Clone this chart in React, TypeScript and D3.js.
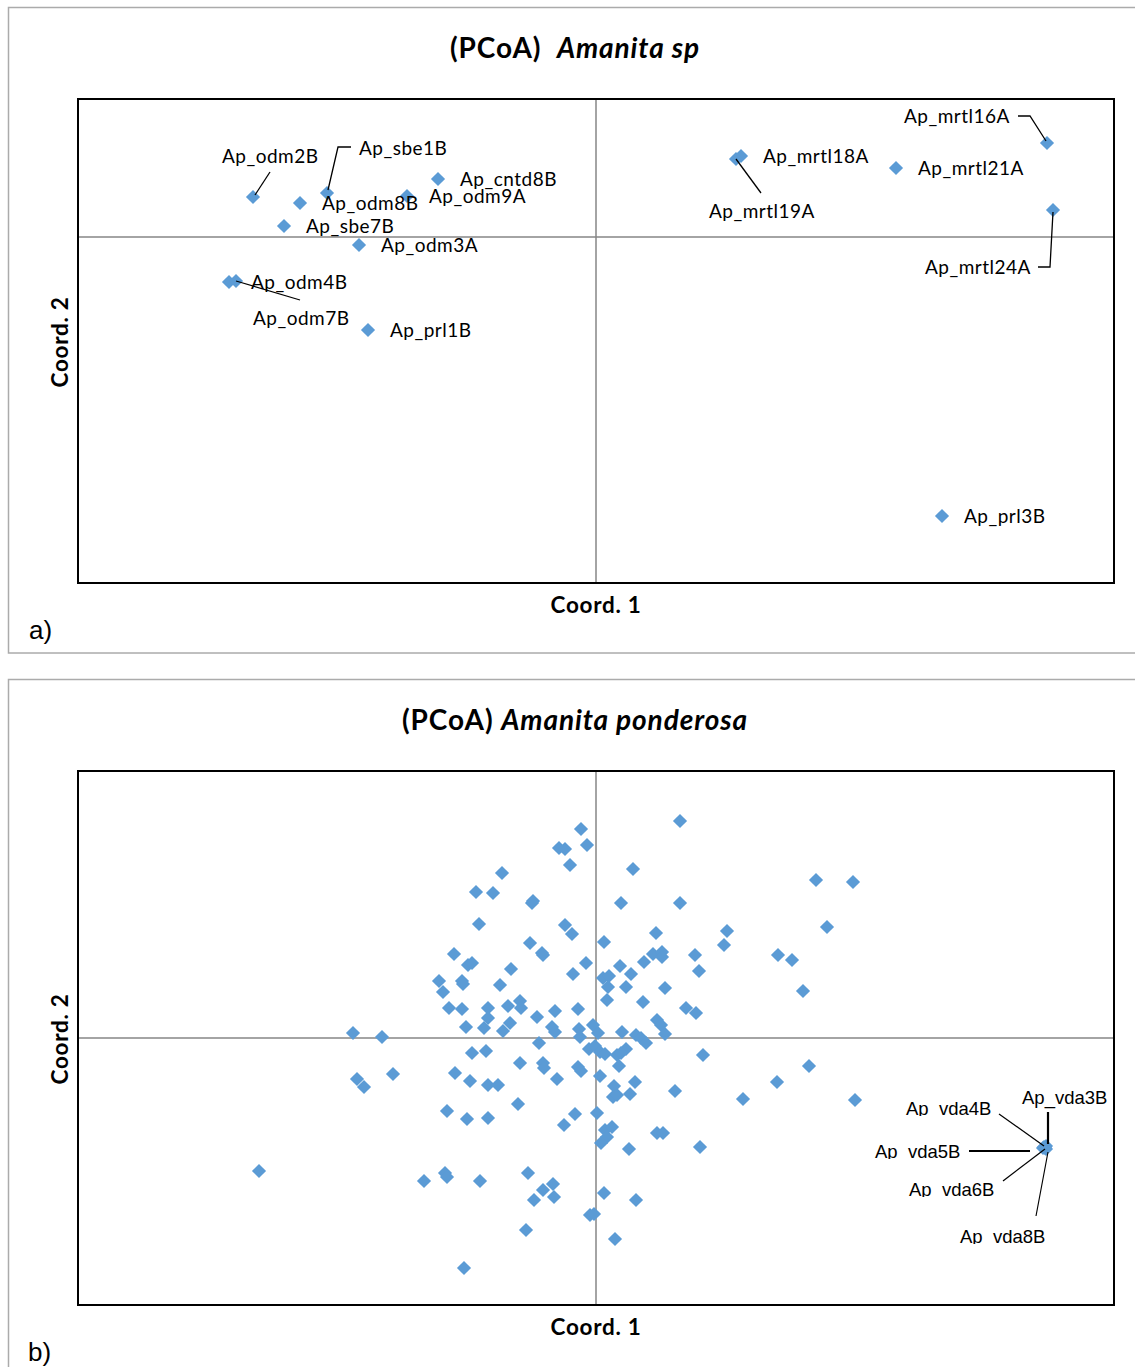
import React from 'react';
import * as d3 from 'd3';

// ---- panel a: (PCoA) Amanita sp ----
const spNames = [
  'Ap_odm2B', 'Ap_sbe1B', 'Ap_odm8B', 'Ap_odm9A', 'Ap_cntd8B', 'Ap_sbe7B', 'Ap_odm3A', 'Ap_odm4B',
  'Ap_odm7B', 'Ap_prl1B', 'Ap_mrtl18A', 'Ap_mrtl19A', 'Ap_mrtl21A', 'Ap_mrtl16A', 'Ap_mrtl24A', 'Ap_prl3B',
];
const spCoord1 = [-0.343, -0.269, -0.296, -0.189, -0.158, -0.312, -0.237, -0.367, -0.36, -0.228, 0.145, 0.14, 0.3, 0.451, 0.457, 0.346];
const spCoord2 = [0.04, 0.044, 0.034, 0.041, 0.058, 0.011, -0.008, -0.045, -0.044, -0.093, 0.081, 0.078, 0.069, 0.094, 0.027, -0.279];

// ---- panel b: (PCoA) Amanita ponderosa ----
const ponCoord1 = [
  0.084, -0.015, -0.009, -0.037, -0.031, -0.026, 0.037, -0.094, -0.12, -0.103, -0.063, -0.064, 0.025, 0.084, 0.22, 0.257,
  -0.117, -0.031, -0.024, 0.231, 0.131, 0.128, 0.06, 0.008, -0.066, -0.054, -0.053, -0.142, 0.099, 0.057, 0.066, 0.066,
  0.048, -0.01, -0.128, -0.124, -0.085, 0.103, -0.023, 0.024, 0.035, 0.007, 0.013, 0.012, 0.03, 0.069, -0.157, -0.134,
  -0.133, -0.096, -0.153, 0.011, 0.047, 0.182, 0.196, 0.207, -0.147, -0.134, -0.108, -0.108, -0.112, -0.088, -0.076, -0.075,
  -0.086, -0.093, -0.13, -0.059, -0.041, -0.018, -0.044, -0.041, -0.017, -0.016, -0.003, 0.002, 0.026, 0.04, 0.045, 0.05,
  0.09, 0.1, 0.061, 0.065, 0.069, -0.243, -0.214, -0.057, -0.124, -0.11, -0.007, -0.001, 0.004, 0.009, 0.021, 0.03,
  0.025, 0.107, -0.076, -0.053, -0.052, -0.018, -0.015, 0.004, 0.023, 0.039, 0.018, 0.017, 0.021, 0.034, 0.079, -0.141,
  -0.126, -0.108, -0.098, -0.039, -0.203, -0.239, -0.232, 0.147, 0.181, 0.213, 0.259, -0.149, -0.078, -0.129, -0.108, -0.021,
  -0.032, 0.001, 0.009, 0.016, 0.011, 0.005, 0.033, 0.061, 0.067, 0.104, -0.337, -0.172, -0.151, -0.149, -0.116, -0.068,
  -0.053, -0.043, -0.042, -0.062, 0.008, 0.04, -0.006, -0.002, -0.07, 0.019, -0.132,
];
const ponCoord2 = [
  0.217, 0.209, 0.193, 0.19, 0.189, 0.173, 0.169, 0.165, 0.146, 0.145, 0.137, 0.135, 0.135, 0.135, 0.158, 0.156,
  0.114, 0.113, 0.104, 0.111, 0.107, 0.093, 0.105, 0.096, 0.095, 0.085, 0.083, 0.084, 0.083, 0.084, 0.086, 0.081,
  0.076, 0.075, 0.073, 0.075, 0.069, 0.067, 0.064, 0.072, 0.064, 0.06, 0.062, 0.051, 0.051, 0.05, 0.057, 0.057,
  0.054, 0.053, 0.046, 0.038, 0.036, 0.083, 0.078, 0.047, 0.03, 0.029, 0.03, 0.02, 0.01, 0.032, 0.037, 0.03,
  0.015, 0.007, 0.011, 0.021, 0.027, 0.029, 0.011, 0.006, 0.009, 0.001, 0.013, 0.005, 0.006, 0.003, 0.0, -0.005,
  0.03, 0.025, 0.018, 0.013, 0.004, 0.005, 0.001, -0.005, -0.015, -0.013, -0.011, -0.008, -0.014, -0.016, -0.017, -0.011,
  -0.015, -0.017, -0.025, -0.025, -0.03, -0.029, -0.033, -0.038, -0.028, -0.044, -0.048, -0.059, -0.057, -0.056, -0.053, -0.035,
  -0.043, -0.047, -0.047, -0.041, -0.036, -0.041, -0.049, -0.061, -0.044, -0.028, -0.062, -0.073, -0.066, -0.081, -0.08, -0.076,
  -0.087, -0.075, -0.092, -0.089, -0.099, -0.105, -0.111, -0.095, -0.095, -0.109, -0.133, -0.143, -0.135, -0.139, -0.143, -0.135,
  -0.152, -0.146, -0.159, -0.162, -0.155, -0.162, -0.177, -0.176, -0.192, -0.201, -0.23,
];
// the labelled vda samples sit on top of each other at the right edge
const vdaNames = ['Ap_vda3B', 'Ap_vda4B', 'Ap_vda5B', 'Ap_vda6B', 'Ap_vda8B'];
const vdaCoord1 = [0.45, 0.448, 0.447, 0.449, 0.45];
const vdaCoord2 = [-0.108, -0.109, -0.11, -0.11, -0.111];

// label placement: pixel offsets from the point, plus optional leader line (offsets too)
type Lay = { dx: number; dy: number; leader?: number[][]; thick?: boolean };
const spLabels: Record<string, Lay> = {
  Ap_odm2B: { dx: -31, dy: -41, leader: [[17, -25], [2, -2]] },
  Ap_sbe1B: { dx: 32, dy: -45, leader: [[24, -46], [11, -46], [1, -3]] },
  Ap_odm7B: { dx: 17, dy: 37, leader: [[0, 0], [64, 19]] },
  Ap_mrtl19A: { dx: -27, dy: 52, leader: [[0, 0], [25, 34]] },
  Ap_mrtl16A: { dx: -143, dy: -27, leader: [[-29, -27], [-17, -27], [-1, -2]] },
  Ap_mrtl24A: { dx: -128, dy: 57, leader: [[-15, 57], [-3, 57], [0, 2]] },
};
const vdaLabels: Record<string, Lay> = {
  Ap_vda3B: { dx: -24, dy: -48, leader: [[2, -34], [2, -2]], thick: true },
  Ap_vda4B: { dx: -138, dy: -38, leader: [[-45, -33], [0, -1]] },
  Ap_vda5B: { dx: -168, dy: 4, leader: [[-74, 3], [-13, 3]], thick: true },
  Ap_vda6B: { dx: -136, dy: 42, leader: [[-42, 33], [0, 1]] },
  Ap_vda8B: { dx: -86, dy: 88, leader: [[-10, 67], [2, 3]] },
};

const BLUE = '#5b9bd5';
const CAL = 'Lato, "Open Sans", sans-serif';
const ARIAL = '"Liberation Sans", Arial, sans-serif';
const diamond = d3.symbol().type(d3.symbolSquare).size(100)() as string;
const leaderLine = d3.line();

const left = 78;
const right = 1114;

function Panel({ top, bottom, yDomain, xs, ys }: any) {
  const x = d3.scaleLinear().domain([-0.518, 0.518]).range([left, right]);
  const y = d3.scaleLinear().domain(yDomain).range([bottom, top]);
  return (
    <g>
      <line x1={x(0)} x2={x(0)} y1={top} y2={bottom} stroke="#868686" strokeWidth={1.5} />
      <line x1={left} x2={right} y1={y(0)} y2={y(0)} stroke="#868686" strokeWidth={1.5} />
      <rect x={left} y={top} width={right - left} height={bottom - top} fill="none" stroke="#000" strokeWidth={2} />
      {xs.map((v: number, i: number) => (
        <path key={i} d={diamond} transform={`translate(${x(v)},${y(ys[i])}) rotate(45)`} fill={BLUE} />
      ))}
    </g>
  );
}

export default function App() {
  const xA = d3.scaleLinear().domain([-0.518, 0.518]).range([left, right]);
  const yA = d3.scaleLinear().domain([-0.346, 0.138]).range([583, 99]);
  const yB = d3.scaleLinear().domain([-0.267, 0.267]).range([1305, 771]);

  const spLab = spNames.map((n, i) => {
    const px = xA(spCoord1[i]);
    const py = yA(spCoord2[i]);
    const lay = spLabels[n] || { dx: 22, dy: 0 };
    return (
      <g key={n}>
        {lay.leader && (
          <path d={leaderLine(lay.leader.map(p => [px + p[0], py + p[1]]) as any) || ''} fill="none" stroke="#000" strokeWidth={1.3} />
        )}
        <text x={px + lay.dx} y={py + lay.dy} dy="0.36em" fontFamily={CAL} fontSize={19} letterSpacing={0.5} fill="#000">{n}</text>
      </g>
    );
  });

  const vdaLab = vdaNames.map((n, i) => {
    const px = xA(vdaCoord1[i]);
    const py = yB(vdaCoord2[i]);
    const lay = vdaLabels[n];
    const base = py + lay.dy + 6;
    const clipped = n !== 'Ap_vda3B';
    return (
      <g key={n}>
        <clipPath id={`clip-${n}`}>
          <rect x={px + lay.dx - 4} y={base - 20} width={100} height={clipped ? 21 : 30} />
        </clipPath>
        <path d={leaderLine(lay.leader!.map(p => [px + p[0], py + p[1]]) as any) || ''} fill="none" stroke="#000" strokeWidth={lay.thick ? 2.2 : 1.2} />
        <text x={px + lay.dx} y={base} fontFamily={ARIAL} fontSize={18.5} fill="#000" clipPath={`url(#clip-${n})`}>{n}</text>
      </g>
    );
  });

  const titleStyle = { whiteSpace: 'pre' as const };

  return (
    <svg width={1135} height={1367} style={{ position: 'absolute', left: 0, top: 0, background: '#fff' }}>
      {/* outer frames */}
      <rect x={8.5} y={7.5} width={1140} height={645.5} fill="none" stroke="#ababab" strokeWidth={1.5} />
      <rect x={8.5} y={679.5} width={1140} height={700} fill="none" stroke="#ababab" strokeWidth={1.5} />

      <Panel top={99} bottom={583} yDomain={[-0.346, 0.138]} xs={spCoord1} ys={spCoord2} />
      <Panel top={771} bottom={1305} yDomain={[-0.267, 0.267]} xs={ponCoord1.concat(vdaCoord1)} ys={ponCoord2.concat(vdaCoord2)} />
      {spLab}
      {vdaLab}

      <text x={575} y={48} dy="0.36em" textAnchor="middle" fontFamily={CAL} fontWeight="bold" fontSize={28} letterSpacing={0.9} style={titleStyle}>
        <tspan>(PCoA)  </tspan><tspan fontStyle="italic">Amanita sp</tspan>
      </text>
      <text x={575} y={720} dy="0.36em" textAnchor="middle" fontFamily={CAL} fontWeight="bold" fontSize={28} letterSpacing={0.9} style={titleStyle}>
        <tspan>(PCoA) </tspan><tspan fontStyle="italic">Amanita ponderosa</tspan>
      </text>

      {[[605, 342], [1327, 1039]].map(([ty, cy], i) => (
        <g key={i}>
          <text x={596} y={ty} dy="0.36em" textAnchor="middle" fontFamily={CAL} fontWeight="bold" fontSize={22.5} letterSpacing={0.7}>Coord. 1</text>
          <text transform={`translate(60,${cy}) rotate(-90)`} dy="0.36em" textAnchor="middle" fontFamily={CAL} fontWeight="bold" fontSize={22.5} letterSpacing={0.7}>Coord. 2</text>
        </g>
      ))}

      <text x={29} y={639} fontFamily={ARIAL} fontSize={26}>a)</text>
      <text x={28} y={1361} fontFamily={ARIAL} fontSize={26}>b)</text>
    </svg>
  );
}
